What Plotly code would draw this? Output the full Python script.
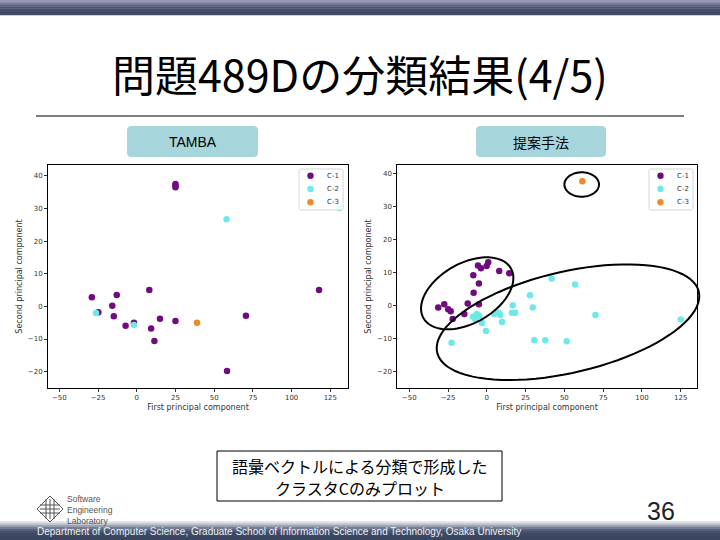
import numpy as np
import plotly.graph_objects as go

W, H = 720, 540

# ---------------- data ----------------
series_names = ["C-1", "C-2", "C-3"]
series_colors = ["#700b80", "#6ee9ea", "#ef8a26"]

tamba_c1_x = [25, 25, 25, 117.7, 8.1, -29.0, -12.9, -15.8, -24.8, -14.8, -7.2, -1.8, 15.0, 9.3, 11.4, 25.0, 70.5, 58.3]
tamba_c1_y = [37.5, 37.0, 36.5, 5.0, 5.0, 2.8, 3.5, 0.2, -1.8, -3.0, -5.9, -5.0, -3.8, -6.8, -10.6, -4.5, -2.9, -19.8]
tamba_c2_x = [58.0, 130.8, -26.3, -1.8]
tamba_c2_y = [26.7, 30.1, -2.0, -5.7]
tamba_c3_x = [38.9]
tamba_c3_y = [-5.0]

prop_c1_x = [-31.3, -27.4, -24.9, -23.3, -22.0, -14.5, -12.3, -5.1, -8.5, -5.1, -8.7, -5.7, -3.8, -0.1, 0.9, 8.0, 14.5]
prop_c1_y = [-0.7, 0.3, -1.2, -1.8, -4.2, -2.7, 0.5, 0.3, 3.8, 6.6, 9.1, 12.0, 11.2, 11.9, 13.0, 10.4, 9.7]
prop_c2_x = [-22.7, -8.9, -6.4, -4.9, -7.4, -3.1, -0.5, 4.8, 7.6, 8.7, 9.8, 16.7, 16.2, 18.3,
             27.8, 29.6, 30.6, 37.7, 41.8, 51.5, 56.9, 70.0, 125.0]
prop_c2_y = [-11.4, -3.5, -2.7, -3.2, -4.3, -5.4, -7.8, -2.7, -2.3, -3.0, -5.1, 0.0, -2.3, -2.3,
             3.0, -0.7, -10.6, -10.6, 8.1, -10.9, 6.3, -3.0, -4.3]
prop_c3_x = [61.6]
prop_c3_y = [37.6]

x_ticks = [-50, -25, 0, 25, 50, 75, 100, 125]
y_ticks = [-20, -10, 0, 10, 20, 30, 40]

title_text = "問題489Dの分類結果(4/5)"
left_label = "TAMBA"
right_label = "提案手法"
note_lines = ["語彙ベクトルによる分類で形成した", "クラスタCのみプロット"]
page_no = "36"
footer_text = "Department of Computer Science, Graduate School of Information Science and Technology, Osaka University"
logo_lines = ["Software", "Engineering", "Laboratory"]


# ---------------- helpers (pixel -> paper) ----------------
def px(x):
    return x / W


def py(y):
    return 1 - y / H


def rect(x0, y0, x1, y1, fill, line_color=None, lw=0, layer="below"):
    return dict(type="rect", xref="paper", yref="paper", x0=px(x0), x1=px(x1),
                y0=py(y1), y1=py(y0), fillcolor=fill,
                line=dict(color=line_color or fill, width=lw), layer=layer)


def round_rect(x0, y0, x1, y1, r, fill, line_color=None, lw=0, layer="below"):
    pts = []
    corners = [(x1 - r, y0 + r, -90, 0), (x1 - r, y1 - r, 0, 90),
               (x0 + r, y1 - r, 90, 180), (x0 + r, y0 + r, 180, 270)]
    for cx, cy, a0, a1 in corners:
        for a in np.linspace(np.radians(a0), np.radians(a1), 6):
            pts.append((cx + r * np.cos(a), cy + r * np.sin(a)))
    path = "M " + " L ".join(f"{px(a):.5f},{py(b):.5f}" for a, b in pts) + " Z"
    return dict(type="path", xref="paper", yref="paper", path=path,
                fillcolor=fill, line=dict(width=lw, color=line_color or fill), layer=layer)


def ellipse(cx, cy, a, b, theta_deg, lw=2):
    th = np.radians(theta_deg)
    t = np.linspace(0, 2 * np.pi, 90)
    xs = cx + a * np.cos(t) * np.cos(th) + b * np.sin(t) * np.sin(th)
    ys = cy - a * np.cos(t) * np.sin(th) + b * np.sin(t) * np.cos(th)
    path = "M " + " L ".join(f"{px(a_):.5f},{py(b_):.5f}" for a_, b_ in zip(xs, ys)) + " Z"
    return dict(type="path", xref="paper", yref="paper", path=path,
                line=dict(color="black", width=lw), layer="above")


def text(x, y, s, size, color="black", family="Noto Sans CJK JP", xanchor="center", **kw):
    return dict(x=px(x), y=py(y), xref="paper", yref="paper", text=s, showarrow=False,
                font=dict(size=size, color=color, family=family),
                xanchor=xanchor, yanchor="middle", **kw)


# ---------------- figure ----------------
fig = go.Figure()

left_sets = [(tamba_c1_x, tamba_c1_y), (tamba_c2_x, tamba_c2_y), (tamba_c3_x, tamba_c3_y)]
right_sets = [(prop_c1_x, prop_c1_y), (prop_c2_x, prop_c2_y), (prop_c3_x, prop_c3_y)]

for i, (xs, ys) in enumerate(left_sets):
    fig.add_trace(go.Scatter(x=xs, y=ys, mode="markers", name=series_names[i], showlegend=False,
                             marker=dict(color=series_colors[i], size=6.5, line=dict(width=0)),
                             xaxis="x", yaxis="y"))
for i, (xs, ys) in enumerate(right_sets):
    fig.add_trace(go.Scatter(x=xs, y=ys, mode="markers", name=series_names[i], showlegend=False,
                             marker=dict(color=series_colors[i], size=6.5, line=dict(width=0)),
                             xaxis="x2", yaxis="y2"))

axis_common = dict(showgrid=False, zeroline=False, showline=True, linecolor="black",
                   linewidth=1, mirror=True, ticks="outside", ticklen=3, tickwidth=1,
                   tickcolor="#333", tickfont=dict(size=7, color="#333", family="DejaVu Sans"))

tfont = dict(size=8, color="#333", family="DejaVu Sans")
yd = [py(388), py(165)]
fig.update_layout(
    width=W, height=H, margin=dict(l=0, r=0, t=0, b=0),
    paper_bgcolor="white", plot_bgcolor="white", showlegend=False,
    xaxis=dict(domain=[px(48), px(348)], range=[-57.3, 136.4], tickvals=x_ticks, anchor="y",
               title=dict(text="First principal component", font=tfont, standoff=2), **axis_common),
    yaxis=dict(domain=yd, range=[-25.0, 43.3], tickvals=y_ticks, anchor="x",
               title=dict(text="Second principal component", font=tfont, standoff=4), **axis_common),
    xaxis2=dict(domain=[px(397.3), px(696.7)], range=[-57.7, 135.3], tickvals=x_ticks, anchor="y2",
                title=dict(text="First principal component", font=tfont, standoff=2), **axis_common),
    yaxis2=dict(domain=yd, range=[-25.1, 42.5], tickvals=y_ticks, anchor="x2",
                title=dict(text="Second principal component", font=tfont, standoff=4), **axis_common),
)

shapes = []
ann = []
# top bar gradient
top_cols = ["#9a98b6", "#7a7a9c", "#5c6282", "#4a5272", "#454d6b", "#434b68", "#414a62"]
ys = np.linspace(0, 15, len(top_cols) + 1)
for c, a, b in zip(top_cols, ys[:-1], ys[1:]):
    shapes.append(rect(0, a, W, b + 0.3, c))
# footer gradient
foot_cols = ["#e3e5ea", "#c3c7d0", "#9aa1b0", "#747d93", "#56607a", "#455069", "#3d4862", "#3a4560"]
ys = [521, 523, 525, 527, 529, 531, 533, 536, 540]
for c, a, b in zip(foot_cols, ys[:-1], ys[1:]):
    shapes.append(rect(0, a, W, b + 0.3, c))
# title rule
shapes.append(dict(type="line", xref="paper", yref="paper", x0=px(36), x1=px(684), y0=py(116), y1=py(116),
                   line=dict(color="black", width=1)))
# labels boxes
shapes.append(round_rect(127, 126, 258, 157, 4, "#a6d6dc"))
shapes.append(round_rect(476, 126, 606, 157, 4, "#a6d6dc"))
# note box
shapes.append(dict(type="rect", xref="paper", yref="paper", x0=px(217), x1=px(502), y0=py(501), y1=py(451),
                   fillcolor="white", line=dict(color="black", width=1), layer="below"))
# ellipses on the right chart
shapes.append(ellipse(581.7, 184.5, 17.3, 12.2, 0))
shapes.append(ellipse(467.2, 293.3, 50.3, 29.9, 29.6))
shapes.append(ellipse(568.0, 322.2, 134.3, 50.5, 13.1))

# matplotlib-style legends (one per chart)
for lx0 in (299, 649):
    shapes.append(round_rect(lx0, 169, lx0 + 44, 210, 2, "rgba(255,255,255,0.85)",
                             line_color="#d6d6d6", lw=1, layer="above"))
    for i, name in enumerate(series_names):
        yc = 175.7 + i * 13.3
        cx = lx0 + 11.5
        shapes.append(dict(type="circle", xref="paper", yref="paper",
                           x0=px(cx - 3.2), x1=px(cx + 3.2), y0=py(yc + 3.2), y1=py(yc - 3.2),
                           fillcolor=series_colors[i], line=dict(width=0), layer="above"))
        ann.append(text(lx0 + 26, yc, name, 7, color="#333", family="DejaVu Sans", xanchor="left"))

# logo diamond
lc = "#555"
d_cx, d_cy, d_r = 50, 509, 13
shapes.append(dict(type="path", xref="paper", yref="paper",
                   path=f"M {px(d_cx)},{py(d_cy - d_r)} L {px(d_cx + d_r)},{py(d_cy)} L {px(d_cx)},{py(d_cy + d_r)} L {px(d_cx - d_r)},{py(d_cy)} Z",
                   line=dict(color=lc, width=1)))
for off in [-4, 0, 4]:
    shapes.append(dict(type="line", xref="paper", yref="paper", x0=px(d_cx - 10), x1=px(d_cx + 10),
                       y0=py(d_cy + off), y1=py(d_cy + off), line=dict(color=lc, width=1)))
    shapes.append(dict(type="line", xref="paper", yref="paper", x0=px(d_cx + off), x1=px(d_cx + off),
                       y0=py(d_cy - 10), y1=py(d_cy + 10), line=dict(color=lc, width=1)))
fig.update_layout(shapes=shapes)

ann += [
    text(360, 73, title_text, 43),
    text(192.5, 141.5, left_label, 14, family="Liberation Sans"),
    text(541, 141.5, right_label, 14),
    text(360, 466, note_lines[0], 16),
    text(360, 488, note_lines[1], 16),
    text(661, 511, page_no, 25, color="#222", family="Liberation Sans"),
    text(35, 531.5, footer_text, 10, color="#eef0f4", family="Liberation Sans", xanchor="left"),
    text(65, 509.5, "<br>".join(logo_lines), 8.5, color="#555", family="Liberation Sans",
         xanchor="left", align="left"),
]
fig.update_layout(annotations=ann)

fig.write_html("out.html", config={"displayModeBar": False},
               post_script="document.body.style.margin='0';document.body.style.padding='0';"
                           "document.body.style.overflow='hidden';")
